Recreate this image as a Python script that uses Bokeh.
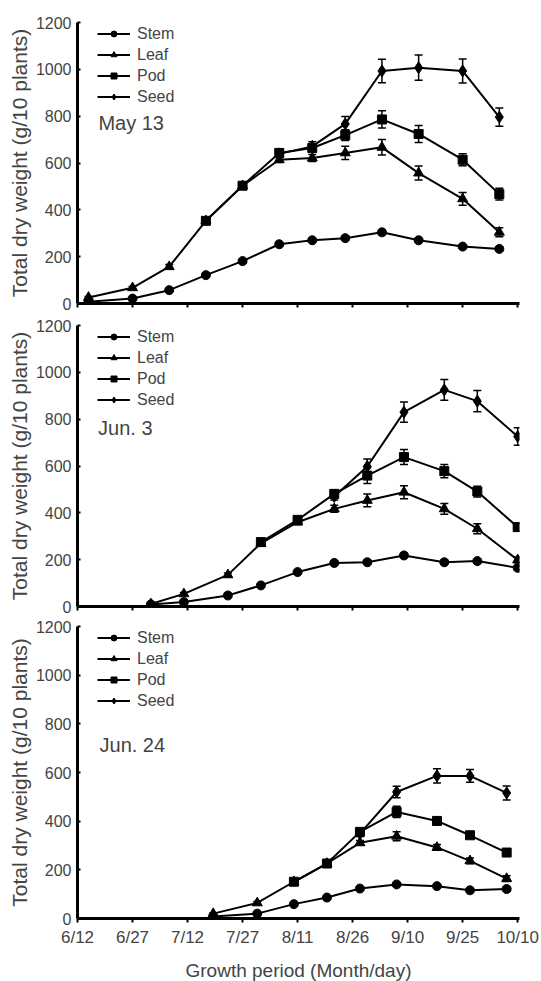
import pandas as pd
from bokeh.plotting import figure
from bokeh.models import (ColumnDataSource, Range1d, FixedTicker, Whisker, TeeHead,
                          Legend, LegendItem, Label)
from bokeh.layouts import column
from bokeh.embed import file_html
from bokeh.resources import INLINE

# ---------------- data ----------------
tick_labels = ["6/12", "6/27", "7/12", "7/27", "8/11", "8/26", "9/10", "9/25", "10/10"]
y_ticks = [0, 200, 400, 600, 800, 1000, 1200]

# Panel 1: sown May 13
p1_title = "May 13"
stem1_d = ["6/15", "6/27", "7/7", "7/17", "7/27", "8/6", "8/15", "8/24", "9/3", "9/13", "9/25", "10/5"]
stem1 = [7, 21, 57, 121, 181, 253, 270, 279, 304, 270, 243, 233]
stem1_e = [3, 4, 5, 6, 6, 8, 8, 8, 10, 8, 8, 8]
leaf1_d = stem1_d
leaf1 = [26, 67, 157, 353, 503, 614, 621, 643, 667, 557, 447, 304]
leaf1_e = [4, 6, 10, 12, 12, 12, 15, 28, 33, 30, 27, 19]
pod1_d = ["7/17", "7/27", "8/6", "8/15", "8/24", "9/3", "9/13", "9/25", "10/5"]
pod1 = [353, 503, 643, 664, 719, 786, 724, 614, 467]
pod1_e = [12, 12, 15, 15, 23, 37, 36, 26, 25]
seed1_d = ["8/6", "8/15", "8/24", "9/3", "9/13", "9/25", "10/5"]
seed1 = [639, 671, 767, 993, 1007, 993, 796]
seed1_e = [15, 20, 32, 50, 54, 51, 39]

# Panel 2: sown Jun. 3
p2_title = "Jun. 3"
stem2_d = ["7/2", "7/11", "7/23", "8/1", "8/11", "8/21", "8/30", "9/9", "9/20", "9/29", "10/10"]
stem2 = [9, 19, 47, 90, 147, 186, 189, 218, 189, 194, 165]
stem2_e = [3, 3, 5, 6, 6, 8, 8, 8, 8, 8, 8]
leaf2_d = stem2_d
leaf2 = [11, 54, 135, 270, 360, 417, 453, 488, 417, 332, 199]
leaf2_e = [3, 6, 8, 10, 10, 15, 27, 28, 23, 21, 12]
pod2_d = ["8/1", "8/11", "8/21", "8/30", "9/9", "9/20", "9/29", "10/10"]
pod2 = [275, 370, 481, 559, 638, 578, 491, 339]
pod2_e = [12, 12, 15, 34, 32, 28, 23, 15]
seed2_d = ["8/21", "8/30", "9/9", "9/20", "9/29", "10/10"]
seed2 = [470, 598, 830, 925, 877, 726]
seed2_e = [15, 32, 43, 44, 45, 37]

# Panel 3: sown Jun. 24
p3_title = "Jun. 24"
stem3_d = ["7/19", "7/31", "8/10", "8/19", "8/28", "9/7", "9/18", "9/27", "10/7"]
stem3 = [8, 20, 59, 86, 123, 140, 133, 116, 121]
stem3_e = [3, 3, 5, 5, 6, 6, 6, 6, 8]
leaf3_d = stem3_d
leaf3 = [20, 64, 151, 226, 311, 338, 292, 237, 164]
leaf3_e = [3, 6, 8, 10, 10, 18, 12, 12, 12]
pod3_d = ["8/10", "8/19", "8/28", "9/7", "9/18", "9/27", "10/7"]
pod3 = [151, 226, 356, 438, 401, 342, 271]
pod3_e = [10, 10, 12, 23, 15, 12, 12]
seed3_d = ["8/28", "9/7", "9/18", "9/27", "10/7"]
seed3 = [349, 520, 586, 586, 516]
seed3_e = [12, 24, 29, 26, 29]

FONT = "Liberation Sans"
START = pd.Timestamp(2000, 6, 12)


def days(s):
    m, d = map(int, s.split("/"))
    return (pd.Timestamp(2000, m, d) - START).days


tick_pos = [days(t) for t in tick_labels]
MARKERS = {"Stem": ("circle", 9), "Leaf": ("triangle", 10), "Pod": ("square", 9), "Seed": ("diamond", 12)}


def make_panel(title, series, frame_h, top, bottom, show_xlabels, title_xy):
    p = figure(frame_width=442, frame_height=frame_h,
               x_range=Range1d(0, 120.5), y_range=Range1d(0, 1200),
               output_backend="svg", toolbar_location=None,
               min_border_left=77, min_border_right=21,
               min_border_top=top, min_border_bottom=bottom)
    p.outline_line_color = None
    p.grid.visible = False
    p.background_fill_color = "white"
    p.border_fill_color = "white"

    items = []
    for name, dates, vals, errs in series:
        x = [days(d) for d in dates]
        src = ColumnDataSource(dict(x=x, y=vals,
                                    upper=[v + e for v, e in zip(vals, errs)],
                                    lower=[v - e for v, e in zip(vals, errs)]))
        w = Whisker(base="x", upper="upper", lower="lower", source=src,
                    line_color="black", line_width=1.5,
                    upper_head=TeeHead(size=8, line_width=1.5, line_color="black"),
                    lower_head=TeeHead(size=8, line_width=1.5, line_color="black"))
        p.add_layout(w)
        lr = p.line("x", "y", source=src, line_color="black", line_width=2)
        mk, sz = MARKERS[name]
        sr = p.scatter("x", "y", source=src, marker=mk, size=sz,
                       fill_color="black", line_color="black")
        items.append(LegendItem(label=name, renderers=[lr, sr]))

    # legend sits at the very top-left of the plot area
    leg = Legend(items=items, location="top_left", orientation="vertical",
                 glyph_width=33, glyph_height=15, label_height=21, label_standoff=7,
                 spacing=0, padding=0, margin=1, border_line_color=None,
                 background_fill_alpha=0, label_text_font=FONT,
                 label_text_font_size="16px")
    leg.margin = 0
    p.add_layout(leg)
    leg.location = (20, frame_h - 85)

    p.add_layout(Label(x=title_xy[0], y=title_xy[1], text=title, text_font=FONT,
                       text_font_size="20px", text_baseline="middle", text_align="left"))

    ya = p.yaxis[0]
    ya.ticker = FixedTicker(ticks=y_ticks)
    ya.axis_line_width = 3
    ya.major_tick_in = 3
    ya.major_tick_out = 0
    ya.major_tick_line_width = 2
    ya.minor_tick_line_color = None
    ya.major_label_standoff = 6
    ya.major_label_text_font = FONT
    ya.major_label_text_font_size = "16px"
    ya.axis_label = "Total dry weight (g/10 plants)"
    ya.axis_label_text_font = FONT
    ya.axis_label_text_font_style = "normal"
    ya.axis_label_text_font_size = "21px"
    ya.axis_label_standoff = 2

    xa = p.xaxis[0]
    xa.axis_line_width = 3
    xa.major_label_text_font = FONT
    if show_xlabels:
        xa.ticker = FixedTicker(ticks=tick_pos)
        xa.major_label_overrides = {tp: lab for tp, lab in zip(tick_pos, tick_labels)}
        xa.major_tick_in = 0
        xa.major_tick_out = 4
        xa.major_tick_line_width = 2
        xa.minor_tick_line_color = None
        xa.major_label_text_font_size = "17px"
        xa.major_label_standoff = 5
        xa.axis_label = "Growth period (Month/day)"
        xa.axis_label_text_font = FONT
        xa.axis_label_text_font_style = "normal"
        xa.axis_label_text_font_size = "19px"
        xa.axis_label_standoff = 10
    else:
        # tick marks only (no labels in the upper panels)
        xa.ticker = FixedTicker(ticks=[], minor_ticks=tick_pos)
        xa.major_tick_line_color = None
        xa.minor_tick_in = 0
        xa.minor_tick_out = 4
        xa.minor_tick_line_width = 2
        xa.minor_tick_line_color = "black"
    return p


p1 = make_panel(p1_title,
                [("Stem", stem1_d, stem1, stem1_e), ("Leaf", leaf1_d, leaf1, leaf1_e),
                 ("Pod", pod1_d, pod1, pod1_e), ("Seed", seed1_d, seed1, seed1_e)],
                281, 22, 11, False, (5.7, 769))
p2 = make_panel(p2_title,
                [("Stem", stem2_d, stem2, stem2_e), ("Leaf", leaf2_d, leaf2, leaf2_e),
                 ("Pod", pod2_d, pod2, pod2_e), ("Seed", seed2_d, seed2, seed2_e)],
                281, 11, 10, False, (5.6, 764))
p3 = make_panel(p3_title,
                [("Stem", stem3_d, stem3, stem3_e), ("Leaf", leaf3_d, leaf3, leaf3_e),
                 ("Pod", pod3_d, pod3, pod3_e), ("Seed", seed3_d, seed3, seed3_e)],
                292, 10, 61, True, (6.0, 711))

layout = column(p1, p2, p3, spacing=0)
open("out.html", "w").write(file_html(layout, INLINE))
